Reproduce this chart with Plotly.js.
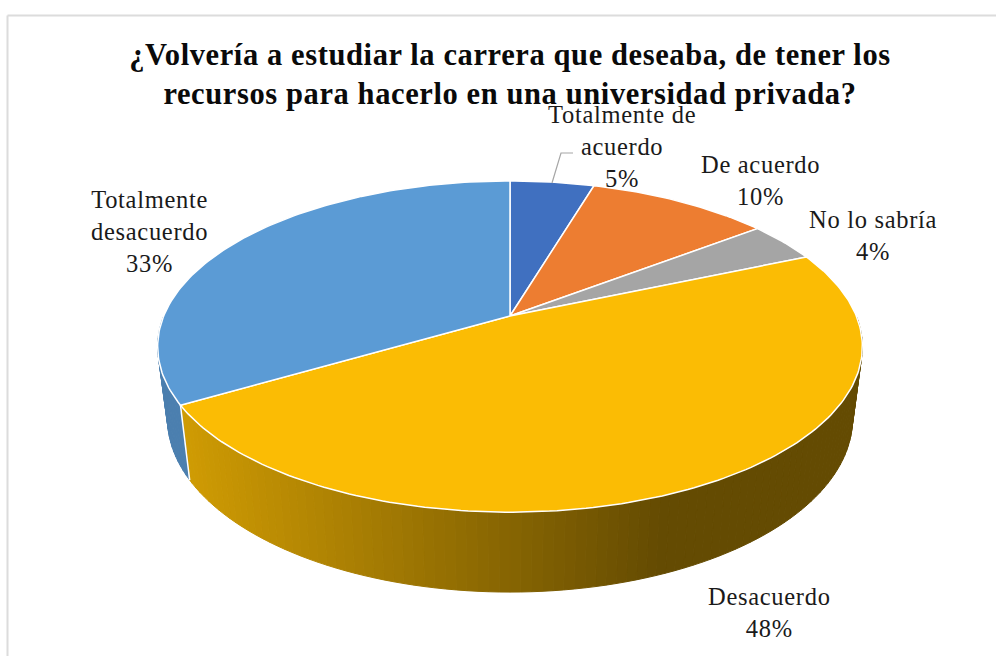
<!DOCTYPE html>
<html>
<head>
<meta charset="utf-8">
<script src="https://cdn.plot.ly/plotly-3.0.1.min.js"></script>
<style>
  html, body { margin: 0; padding: 0; background: #fff; }
  /* the source picture is stretched sideways a little */
  .gtitle { letter-spacing: 0.6px; }
  .annotation-text { letter-spacing: 0.7px; }
</style>
</head>
<body>
<div id="chart" style="width:996px;height:656px"></div>
<script>
const chartTitle = '¿Volvería a estudiar la carrera que deseaba, de tener los<br>recursos para hacerlo en una universidad privada?';

// Slices clockwise from 12 o'clock (labels show them rounded)
const categories = ['Totalmente de<br>acuerdo', 'De acuerdo', 'No lo sabría', 'Desacuerdo', 'Totalmente<br>desacuerdo'];
const percents = [4.6, 10.0, 3.9, 48.0, 33.4];
const sliceColors = ['#4070c0', '#ed7d31', '#a5a5a5', '#fbbc04', '#5b9bd5'];
const sideRgb = [[64, 112, 192], [237, 125, 49], [165, 165, 165], [251, 188, 4], [91, 155, 213]];
const labelX = [622, 760, 873, 769, 149];
const labelY = [146, 180, 235, 612, 231];

// Perspective of the disc, in page pixels
const apexX = 510, apexY = 316;
const eyeDist = 5.42, focalX = 1877, focalY = 867;

function rimTop(deg) {
  const t = deg * Math.PI / 180;
  const u = Math.sin(t), v = -Math.cos(t);
  return [apexX + u * focalX / (eyeDist - v), apexY + v * focalY / (eyeDist - v)];
}

// lower rim sits a bit narrower and further down than the top one
function rimBottom(deg) {
  const p = rimTop(deg);
  return [apexX + (p[0] - apexX) * 0.972, apexY + (p[1] - apexY) * 1.047 + 70.7];
}

function shade(x) {
  const f = 0.82 - (x - 188) * (0.41 / 462);
  return Math.max(0.4, Math.min(0.84, f));
}

const traces = [];
const total = percents.reduce((a, b) => a + b, 0);
const starts = [];
let running = 0;
percents.forEach(p => {
  starts.push(running / total * 360);
  running += p;
});

// Side wall: thin strips so the shading can change along the rim
percents.forEach((p, i) => {
  const from = Math.max(starts[i], 90);
  const to = Math.min(starts[i] + p / total * 360, 270);
  for (let a = from; a < to; a += 1.5) {
    const b = Math.min(a + 1.5, to);
    const t0 = rimTop(a), t1 = rimTop(b), b0 = rimBottom(a), b1 = rimBottom(b);
    const f = i === 4 ? 0.82 : shade((t0[0] + t1[0]) / 2);
    const rgb = sideRgb[i].map(c => Math.round(c * f));
    const col = `rgb(${rgb.join(',')})`;
    traces.push({
      x: [t0[0], t1[0], b1[0], b0[0], t0[0]],
      y: [t0[1], t1[1], b1[1], b0[1], t0[1]],
      type: 'scatter', mode: 'lines', fill: 'toself',
      fillcolor: col, line: { color: col, width: 1 },
      hoverinfo: 'skip', showlegend: false
    });
  }
  // white seam where a slice ends on the visible wall
  if (starts[i] > 90 && starts[i] < 270) {
    const t = rimTop(starts[i]), q = rimBottom(starts[i]);
    traces.push({
      x: [t[0], q[0]], y: [t[1], q[1]],
      type: 'scatter', mode: 'lines',
      line: { color: '#ffffff', width: 1.5 },
      hoverinfo: 'skip', showlegend: false
    });
  }
});

// Top face of the pie
percents.forEach((p, i) => {
  const xs = [apexX], ys = [apexY];
  const sweep = p / total * 360;
  const n = Math.ceil(sweep);
  for (let k = 0; k <= n; k++) {
    const pt = rimTop(starts[i] + sweep * k / n);
    xs.push(pt[0]);
    ys.push(pt[1]);
  }
  xs.push(apexX);
  ys.push(apexY);
  traces.push({
    x: xs, y: ys,
    type: 'scatter', mode: 'lines', fill: 'toself',
    fillcolor: sliceColors[i], line: { color: '#ffffff', width: 1.5 },
    name: categories[i].replace('<br>', ' '),
    hoverinfo: 'skip', showlegend: false
  });
});

const annotations = categories.map((c, i) => ({
  text: `${c}<br>${Math.round(percents[i])}%`,
  x: labelX[i], y: labelY[i], xref: 'x', yref: 'y',
  xanchor: 'center', yanchor: 'middle', align: 'center',
  showarrow: false,
  font: { family: '"Liberation Serif", serif', size: 24.5, color: '#1a1a1a' }
}));

const frameLine = { color: '#dcdcdc', width: 2 };

const layout = {
  width: 996,
  height: 656,
  margin: { t: 0, r: 0, b: 0, l: 0 },
  paper_bgcolor: '#ffffff',
  plot_bgcolor: '#ffffff',
  title: {
    text: chartTitle,
    x: 0.512, xanchor: 'center',
    y: 0.9015, yanchor: 'bottom', yref: 'paper',
    font: { family: '"Liberation Serif", serif', size: 30.5, color: '#0a0a0a', weight: 700 }
  },
  xaxis: { range: [0, 996], visible: false, fixedrange: true },
  yaxis: { range: [656, 0], visible: false, fixedrange: true },
  annotations: annotations,
  shapes: [
    { type: 'line', xref: 'x', yref: 'y', x0: 7.5, x1: 996, y0: 15.5, y1: 15.5, line: frameLine },
    { type: 'line', xref: 'x', yref: 'y', x0: 7.5, x1: 7.5, y0: 15.5, y1: 656, line: frameLine },
    { type: 'path', xref: 'x', yref: 'y', path: 'M552,183 L561,153 L573,153', line: { color: '#a6a6a6', width: 1.2 } }
  ]
};

Plotly.newPlot('chart', traces, layout, { displayModeBar: false, staticPlot: true });
</script>
</body>
</html>
